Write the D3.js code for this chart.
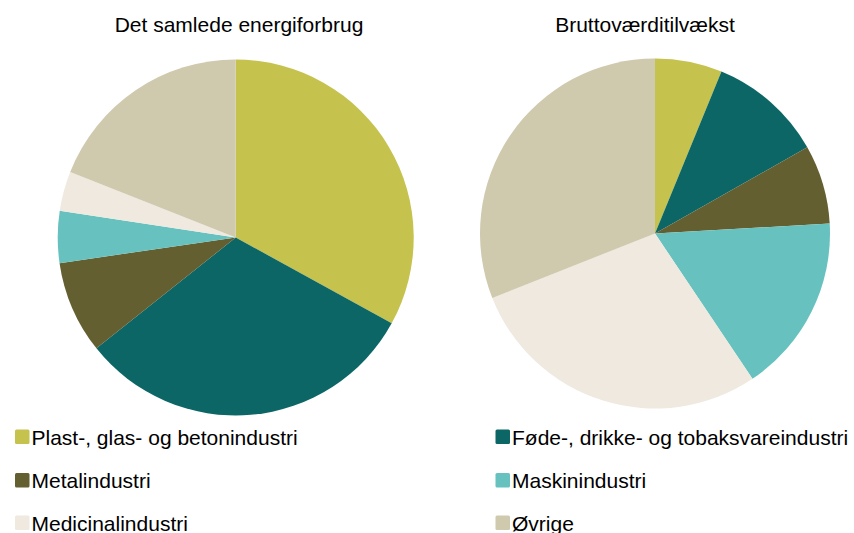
<!DOCTYPE html>
<html>
<head>
<meta charset="utf-8">
<script src="https://cdn.jsdelivr.net/npm/d3@7"></script>
<style>
  body { margin: 0; background: #fff; }
  text { font-family: "Liberation Sans", Arial, sans-serif; fill: #000; }
</style>
</head>
<body>
<div id="chart"></div>
<script>
var width = 854, height = 533;

// categories + colours
var categories = ["Plast-, glas- og betonindustri", "Føde-, drikke- og tobaksvareindustri",
  "Metalindustri", "Maskinindustri", "Medicinalindustri", "Øvrige"];
var colors = ["#c5c24e", "#0b6665", "#645f31", "#67c2bf", "#efe9df", "#cfc9ae"];

// shares in percent
var energyShares = [33.0, 31.3, 8.4, 4.7, 3.6, 19.0];
var gvaShares = [6.2, 10.6, 7.3, 16.5, 28.4, 31.0];

var titles = ["Det samlede energiforbrug", "Bruttoværditilvækst"];

var svg = d3.select("#chart")
  .append("svg")
  .attr("width", width)
  .attr("height", height);

var color = d3.scaleOrdinal()
  .domain(categories)
  .range(colors);

var pie = d3.pie()
  .sort(null)
  .value(d => d.value);

// one entry per pie
var pies = [
  { title: titles[0], values: energyShares, cx: 235.7, cy: 237.5, r: 178, titleX: 239 },
  { title: titles[1], values: gvaShares, cx: 655, cy: 233.5, r: 175, titleX: 645 }
];

pies.forEach(function(p) {
  var arc = d3.arc()
    .innerRadius(0)
    .outerRadius(p.r);

  var data = categories.map((c, i) => ({ name: c, value: p.values[i] }));

  var g = svg.append("g")
    .attr("transform", `translate(${p.cx},${p.cy})`);

  g.selectAll("path")
    .data(pie(data))
    .enter()
    .append("path")
    .attr("d", arc)
    .style("fill", d => color(d.data.name))
    .style("stroke", "none");

  svg.append("text")
    .attr("x", p.titleX)
    .attr("y", 32)
    .attr("text-anchor", "middle")
    .style("font-size", "21px")
    .text(p.title);
});

// Legend, two columns, three rows
var legendX = [15, 495.5];
var legendY = [437, 480.5, 523];

var legend = svg.append("g")
  .attr("class", "legend");

var items = legend.selectAll("g")
  .data(categories)
  .enter()
  .append("g")
  .attr("transform", (d, i) => `translate(${legendX[i % 2]},${legendY[Math.floor(i / 2)]})`);

items.append("rect")
  .attr("x", 0)
  .attr("y", -7.5)
  .attr("width", 14.5)
  .attr("height", 14.5)
  .attr("rx", 1.5)
  .style("fill", d => color(d));

items.append("text")
  .attr("x", 16.5)
  .attr("y", 7.5)
  .style("font-size", "21px")
  .text(d => d);
</script>
</body>
</html>
